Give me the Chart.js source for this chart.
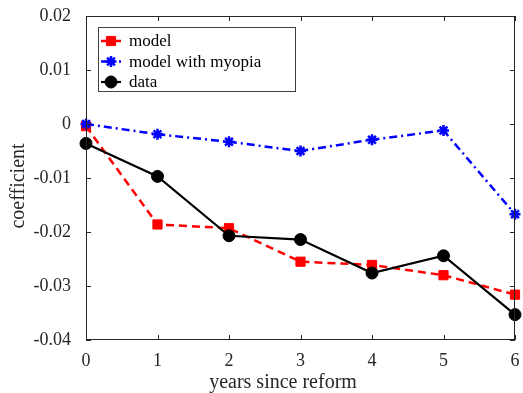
<!DOCTYPE html>
<html>
<head>
<meta charset="utf-8">
<script src="https://cdn.jsdelivr.net/npm/chart.js@4/dist/chart.umd.min.js"></script>
<style>
  html, body { margin: 0; padding: 0; background: #fff; }
  canvas { display: block; }
</style>
</head>
<body>
<canvas id="reformChart" width="523" height="393"></canvas>
<script>
const years = [0, 1, 2, 3, 4, 5, 6];
const model = [-0.0004, -0.0186, -0.0193, -0.0255, -0.0261, -0.0280, -0.0316];
const modelMyopia = [0.0000, -0.0019, -0.0033, -0.0050, -0.0029, -0.0012, -0.0167];
const data = [-0.0036, -0.0097, -0.0207, -0.0214, -0.0276, -0.0244, -0.0353];
const yTicks = [0.02, 0.01, 0, -0.01, -0.02, -0.03, -0.04];

const serif = "'Liberation Serif', 'Times New Roman', serif";

const toPoints = (vals) => vals.map((v, i) => ({ x: years[i], y: v }));

const seriesStyles = [
  { label: "model", color: "#ff0000", dash: [8, 5], width: 2.5, pointStyle: "rect", radius: 6.5, pointBorder: 1 },
  { label: "model with myopia", color: "#0000ff", dash: [8, 4, 2, 4], width: 2.5, pointStyle: "star", radius: 5.5, pointBorder: 2.5 },
  { label: "data", color: "#000000", dash: [], width: 2.2, pointStyle: "circle", radius: 6, pointBorder: 1 },
];

// box, inward ticks, legend and axis titles
const framePlugin = {
  id: "frame",
  afterDraw(chart) {
    const { ctx, chartArea: a, scales } = chart;
    ctx.save();
    ctx.strokeStyle = "#262626";
    ctx.lineWidth = 1;
    ctx.setLineDash([]);
    ctx.strokeRect(a.left + 0.5, a.top + 0.5, a.right - a.left - 1, a.bottom - a.top - 1);

    const tl = 5;
    ctx.beginPath();
    years.forEach((v) => {
      const px = Math.round(scales.x.getPixelForValue(v)) + 0.5;
      ctx.moveTo(px, a.bottom); ctx.lineTo(px, a.bottom - tl);
      ctx.moveTo(px, a.top); ctx.lineTo(px, a.top + tl);
    });
    yTicks.forEach((v) => {
      const py = Math.round(scales.y.getPixelForValue(v)) + 0.5;
      ctx.moveTo(a.left, py); ctx.lineTo(a.left + tl, py);
      ctx.moveTo(a.right, py); ctx.lineTo(a.right - tl, py);
    });
    ctx.stroke();

    // legend
    ctx.fillStyle = "#fff";
    ctx.fillRect(98, 27, 198, 65);
    ctx.strokeStyle = "#404040";
    ctx.strokeRect(98.5, 27.5, 197, 64);
    const rows = [41, 61.5, 82];
    ctx.font = "17px " + serif;
    ctx.textBaseline = "middle";
    seriesStyles.forEach((s, i) => {
      const y = rows[i];
      ctx.strokeStyle = s.color;
      ctx.fillStyle = s.color;
      ctx.lineWidth = s.width;
      ctx.setLineDash(s.dash);
      ctx.beginPath();
      ctx.moveTo(101, y); ctx.lineTo(121, y);
      ctx.stroke();
      ctx.setLineDash([]);
      ctx.lineWidth = s.pointBorder;
      Chart.helpers.drawPoint(ctx, {
        pointStyle: s.pointStyle, radius: s.radius, borderWidth: s.pointBorder, rotation: 0,
      }, 111, y);
      ctx.fillStyle = "#000";
      ctx.fillText(s.label, 129, y + 1);
    });

    // axis titles
    ctx.fillStyle = "#262626";
    ctx.font = "20px " + serif;
    ctx.textAlign = "center";
    ctx.fillText("years since reform", 283, 383);
    ctx.translate(19, 186);
    ctx.rotate(-Math.PI / 2);
    ctx.fillText("coefficient", 0, 0);
    ctx.restore();
  },
};

new Chart(document.getElementById("reformChart"), {
  type: "line",
  data: {
    datasets: [model, modelMyopia, data].map((vals, i) => {
      const s = seriesStyles[i];
      return {
        label: s.label,
        data: toPoints(vals),
        borderColor: s.color,
        backgroundColor: s.color,
        borderWidth: s.width,
        borderDash: s.dash,
        pointStyle: s.pointStyle,
        pointRadius: s.radius,
        pointBorderWidth: s.pointBorder,
        pointBackgroundColor: s.color,
        pointBorderColor: s.color,
        tension: 0,
        clip: false,
        order: [2, 1, 0][i],
      };
    }),
  },
  options: {
    responsive: false,
    animation: false,
    layout: { padding: { top: 16, right: 4, left: 0, bottom: 0 } },
    plugins: {
      legend: { display: false },
      tooltip: { enabled: false },
    },
    scales: {
      x: {
        type: "linear",
        min: 0,
        max: 6,
        grid: { display: false, drawTicks: false },
        border: { display: false },
        afterFit: (s) => {
          s.height = 53;
          s.paddingLeft = 0;
          s.paddingRight = 0;
        },
        ticks: {
          stepSize: 1,
          padding: 10,
          color: "#262626",
          font: { family: serif, size: 18 },
        },
      },
      y: {
        min: -0.04,
        max: 0.02,
        grid: { display: false, drawTicks: false },
        border: { display: false },
        afterFit: (s) => {
          s.width = 86;
          s.paddingTop = 0;
          s.paddingBottom = 0;
        },
        afterBuildTicks: (s) => { s.ticks = yTicks.map((v) => ({ value: v })); },
        ticks: {
          padding: 15,
          color: "#262626",
          font: { family: serif, size: 18 },
          callback: (v) => String(+v.toFixed(2)),
        },
      },
    },
  },
  plugins: [framePlugin],
});
</script>
</body>
</html>
